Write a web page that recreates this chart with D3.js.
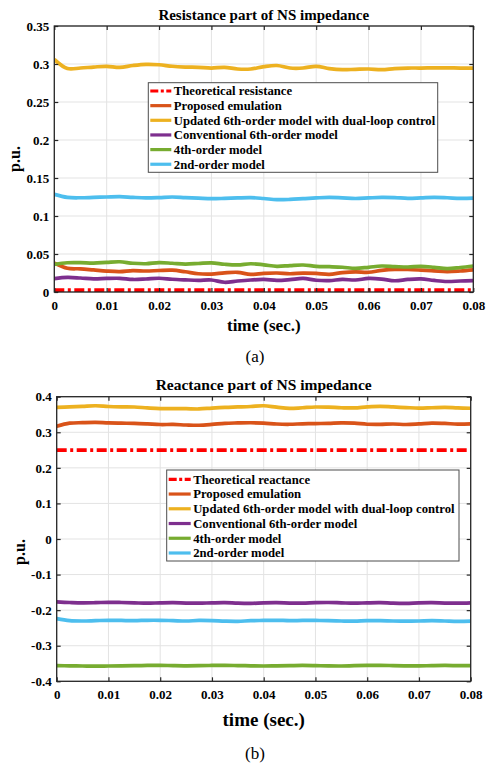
<!DOCTYPE html>
<html>
<head>
<meta charset="utf-8">
<script src="https://cdn.jsdelivr.net/npm/d3@7/dist/d3.min.js"></script>
<style>
    body { margin: 0; background: #fff; }
    svg text { font-family: 'Liberation Serif', 'Times New Roman', serif; font-weight: bold; fill: #000; }
</style>
</head>
<body>
<svg id="chart" width="490" height="767"></svg>
<script>
// sample instants (sec.)
const time = [0, 0.0025, 0.005, 0.0075, 0.01, 0.0125, 0.015, 0.0175, 0.02, 0.0225, 0.025, 0.0275,
    0.03, 0.0325, 0.035, 0.0375, 0.04, 0.0425, 0.045, 0.0475, 0.05, 0.0525, 0.055, 0.0575,
    0.06, 0.0625, 0.065, 0.0675, 0.07, 0.0725, 0.075, 0.0775, 0.08];

const xTicks = [0, 0.01, 0.02, 0.03, 0.04, 0.05, 0.06, 0.07, 0.08];
const yTicksR = [0, 0.05, 0.1, 0.15, 0.2, 0.25, 0.3, 0.35];
const yTicksX = [-0.4, -0.3, -0.2, -0.1, 0, 0.1, 0.2, 0.3, 0.4];

const legendR = ['Theoretical resistance', 'Proposed emulation', 'Updated 6th-order model with dual-loop control',
    'Conventional 6th-order model', '4th-order model', '2nd-order model'];
const legendX = ['Theoretical reactance', 'Proposed emulation', 'Updated 6th-order model with dual-loop control',
    'Conventional 6th-order model', '4th-order model', '2nd-order model'];
const seriesColors = ['#ff0000', '#d95319', '#edb120', '#7e2f8e', '#77ac30', '#4dbeee'];

// (a) resistance part, p.u.
const theoryR = 0.0025;
const proposedR = [0.038, 0.0312, 0.0305, 0.029, 0.0275, 0.0268, 0.0282, 0.0276, 0.0283, 0.0287, 0.0266,
    0.024, 0.0236, 0.0252, 0.0259, 0.0232, 0.0245, 0.025, 0.024, 0.0248, 0.0244, 0.0232, 0.0255,
    0.0266, 0.026, 0.0285, 0.0298, 0.0296, 0.0288, 0.0278, 0.0268, 0.0276, 0.029];
const updatedR = [0.306, 0.294, 0.2947, 0.296, 0.297, 0.2956, 0.298, 0.2995, 0.299, 0.297, 0.296,
    0.2956, 0.2947, 0.2956, 0.2934, 0.2934, 0.2965, 0.298, 0.2947, 0.2947, 0.297, 0.294, 0.2925,
    0.293, 0.2934, 0.2925, 0.294, 0.2947, 0.2947, 0.295, 0.295, 0.2947, 0.2947];
const conventionalR = [0.0176, 0.0192, 0.0184, 0.0172, 0.0178, 0.018, 0.0165, 0.0171, 0.0181, 0.0168, 0.016,
    0.0154, 0.0158, 0.0128, 0.0145, 0.0158, 0.0165, 0.0154, 0.0163, 0.0178, 0.0155, 0.015, 0.0165,
    0.0158, 0.0178, 0.017, 0.0148, 0.0165, 0.0172, 0.0152, 0.0138, 0.0145, 0.015];
const fourthR = [0.0364, 0.0385, 0.0386, 0.0381, 0.039, 0.0398, 0.0378, 0.0372, 0.0386, 0.0378, 0.0368,
    0.0375, 0.0384, 0.0365, 0.0356, 0.0372, 0.0358, 0.0338, 0.0348, 0.0355, 0.0338, 0.0333, 0.0326,
    0.0311, 0.0325, 0.0342, 0.0335, 0.0329, 0.0338, 0.0325, 0.0307, 0.0322, 0.0342];
const secondR = [0.1285, 0.1245, 0.124, 0.1245, 0.125, 0.1255, 0.1245, 0.1238, 0.1242, 0.125, 0.1242,
    0.1235, 0.1228, 0.1232, 0.1238, 0.1242, 0.123, 0.1215, 0.1218, 0.1228, 0.1238, 0.1245, 0.1238,
    0.123, 0.1238, 0.1245, 0.1242, 0.1232, 0.1238, 0.1245, 0.124, 0.1232, 0.1235];

// (b) reactance part, p.u.
const theoryX = 0.25;
const proposedX = [0.317, 0.3255, 0.327, 0.3278, 0.3262, 0.3255, 0.325, 0.3236, 0.3218, 0.322, 0.3205,
    0.3198, 0.322, 0.3252, 0.3262, 0.3268, 0.3258, 0.3232, 0.3225, 0.3238, 0.3245, 0.325, 0.3262,
    0.3255, 0.3226, 0.3222, 0.3232, 0.3218, 0.3235, 0.3258, 0.3248, 0.323, 0.3238];
const updatedX = [0.37, 0.3715, 0.373, 0.3745, 0.3725, 0.3715, 0.371, 0.3685, 0.3665, 0.3665, 0.3662,
    0.3655, 0.368, 0.37, 0.3712, 0.3725, 0.3745, 0.3705, 0.367, 0.369, 0.371, 0.3705, 0.369,
    0.3685, 0.3715, 0.373, 0.3712, 0.3695, 0.368, 0.369, 0.37, 0.3685, 0.3675];
const conventionalX = [-0.177, -0.1785, -0.1795, -0.179, -0.178, -0.1785, -0.1795, -0.1805, -0.1795, -0.179, -0.18,
    -0.1805, -0.1795, -0.179, -0.1805, -0.181, -0.1795, -0.179, -0.18, -0.1805, -0.179, -0.1785, -0.1795,
    -0.1805, -0.1795, -0.179, -0.1805, -0.181, -0.1795, -0.179, -0.18, -0.1805, -0.1795];
const fourthX = [-0.356, -0.3565, -0.357, -0.3575, -0.357, -0.3565, -0.356, -0.3555, -0.3552, -0.356, -0.3565,
    -0.3562, -0.3555, -0.3552, -0.3558, -0.3565, -0.357, -0.3565, -0.356, -0.3555, -0.356, -0.3568, -0.357,
    -0.3562, -0.3555, -0.3552, -0.3558, -0.3565, -0.3568, -0.356, -0.3555, -0.3558, -0.356];
const secondX = [-0.224, -0.2295, -0.2305, -0.2295, -0.2285, -0.229, -0.2295, -0.2285, -0.2285, -0.2295, -0.2305,
    -0.229, -0.2295, -0.231, -0.2315, -0.2295, -0.229, -0.2285, -0.2295, -0.229, -0.229, -0.2295, -0.2305,
    -0.231, -0.2295, -0.2295, -0.2305, -0.231, -0.2305, -0.2295, -0.2305, -0.2315, -0.231];

function ImpedancePanel(svg, props) {
    this.svg = svg;
    this.props = props;
    this.x = d3.scaleLinear().domain([0, 0.08]).range([props.left, props.right]);
    this.y = d3.scaleLinear().domain(props.yDomain).range([props.bottom, props.top]);
    this.line = d3.line()
        .curve(d3.curveCatmullRom)
        .x((d, i) => this.x(time[i]))
        .y(d => this.y(d));
}

ImpedancePanel.prototype.draw = function () {
    let _this = this;
    let p = _this.props;
    let g = _this.svg.append('g').attr('class', p.id);

    // grid
    g.append('g').selectAll('line.vx').data(xTicks).join('line')
        .attr('x1', d => _this.x(d)).attr('x2', d => _this.x(d))
        .attr('y1', p.top).attr('y2', p.bottom)
        .attr('stroke', '#e3e3e3').attr('stroke-width', 1);
    g.append('g').selectAll('line.hy').data(p.yTicks).join('line')
        .attr('x1', p.left).attr('x2', p.right)
        .attr('y1', d => _this.y(d)).attr('y2', d => _this.y(d))
        .attr('stroke', '#e3e3e3').attr('stroke-width', 1);

    // series
    g.append('clipPath').attr('id', 'clip-' + p.id)
        .append('rect')
        .attr('x', p.left).attr('y', p.top)
        .attr('width', p.right - p.left).attr('height', p.bottom - p.top);
    let plot = g.append('g').attr('clip-path', 'url(#clip-' + p.id + ')');
    plot.append('line')
        .attr('x1', _this.x(time[0])).attr('x2', _this.x(time[time.length - 1]))
        .attr('y1', _this.y(p.theory)).attr('y2', _this.y(p.theory))
        .attr('stroke', seriesColors[0]).attr('stroke-width', 3.7)
        .attr('stroke-dasharray', '10,3.5,3,3.5');
    p.series.forEach(function (s, i) {
        plot.append('path')
            .datum(s)
            .attr('d', _this.line)
            .attr('fill', 'none')
            .attr('stroke', seriesColors[i + 1])
            .attr('stroke-width', 3.7)
            .attr('stroke-linejoin', 'round');
    });

    // axes, ticks pointing inward on all four sides
    let fmt = d => String(d);
    let axes = [
        { axis: d3.axisLeft(_this.y).tickValues(p.yTicks).tickFormat(fmt).tickPadding(5), tr: [p.left, 0] },
        { axis: d3.axisRight(_this.y).tickValues(p.yTicks).tickFormat(''), tr: [p.right, 0] },
        { axis: d3.axisBottom(_this.x).tickValues(xTicks).tickFormat(fmt).tickPadding(8.5), tr: [0, p.bottom] },
        { axis: d3.axisTop(_this.x).tickValues(xTicks).tickFormat(''), tr: [0, p.top] }
    ];
    axes.forEach(function (a) {
        let ag = g.append('g')
            .attr('transform', 'translate(' + a.tr[0] + ',' + a.tr[1] + ')')
            .call(a.axis.tickSizeInner(-4).tickSizeOuter(0));
        ag.select('.domain').remove();
        ag.selectAll('line').attr('stroke', '#262626').attr('stroke-width', 1.2);
        ag.selectAll('text').attr('font-size', 13).attr('fill', '#1a1a1a')
            .style('font-family', "'Liberation Serif', 'Times New Roman', serif");
    });
    g.append('rect')
        .attr('x', p.left).attr('y', p.top)
        .attr('width', p.right - p.left).attr('height', p.bottom - p.top)
        .attr('fill', 'none').attr('stroke', '#262626').attr('stroke-width', 1.3);

    // labels
    g.append('text')
        .attr('x', (p.left + p.right) / 2).attr('y', p.titleY)
        .attr('text-anchor', 'middle').attr('font-size', p.titleSize)
        .text(p.title);
    g.append('text')
        .attr('x', (p.left + p.right) / 2).attr('y', p.xLabelY)
        .attr('text-anchor', 'middle').attr('font-size', p.xLabelSize)
        .text('time (sec.)');
    g.append('text')
        .attr('transform', 'translate(' + p.yLabelX + ',' + p.yLabelY + ') rotate(-90)')
        .attr('text-anchor', 'middle').attr('font-size', 16)
        .text('p.u.');
    g.append('text')
        .attr('x', 255).attr('y', p.captionY)
        .attr('text-anchor', 'middle').attr('font-size', 17)
        .style('font-weight', 'normal')
        .text(p.caption);

    _this.drawLegend(g);
};

ImpedancePanel.prototype.drawLegend = function (g) {
    let p = this.props;
    let lg = p.legend;
    let box = g.append('g').attr('class', 'legend');
    box.append('rect')
        .attr('x', lg.x).attr('y', lg.y)
        .attr('width', lg.w).attr('height', lg.h)
        .attr('fill', '#fff').attr('stroke', '#4d4d4d').attr('stroke-width', 1);
    let rows = box.selectAll('g.row').data(p.names).join('g')
        .attr('class', 'row')
        .attr('transform', (d, i) => 'translate(0,' + (lg.row0 + i * lg.step) + ')');
    rows.append('line')
        .attr('x1', lg.x + 2).attr('x2', lg.x + 2 + lg.sample)
        .attr('stroke', (d, i) => seriesColors[i])
        .attr('stroke-width', 3.2)
        .attr('stroke-dasharray', (d, i) => i === 0 ? '8,2.5,3,2.5' : null);
    rows.append('text')
        .attr('x', lg.x + 2 + lg.sample + 2.5)
        .attr('dy', '0.35em')
        .attr('font-size', 12.7)
        .text(d => d);
};

let svg = d3.select('#chart');
svg.append('rect').attr('width', 490).attr('height', 767).attr('fill', '#fff');

new ImpedancePanel(svg, {
    id: 'resistance',
    left: 54.3, right: 473.3, top: 26, bottom: 292,
    yDomain: [0, 0.35], yTicks: yTicksR,
    theory: theoryR,
    series: [proposedR, updatedR, conventionalR, fourthR, secondR],
    names: legendR,
    title: 'Resistance part of NS impedance', titleY: 20, titleSize: 15,
    xLabelY: 331, xLabelSize: 17,
    yLabelX: 20, yLabelY: 159,
    caption: '(a)', captionY: 362,
    legend: { x: 148.3, y: 82.7, w: 289.4, h: 89.6, row0: 91, step: 14.65, sample: 21 }
}).draw();

new ImpedancePanel(svg, {
    id: 'reactance',
    left: 56.7, right: 470.7, top: 396.7, bottom: 681.3,
    yDomain: [-0.4, 0.4], yTicks: yTicksX,
    theory: theoryX,
    series: [proposedX, updatedX, conventionalX, fourthX, secondX],
    names: legendX,
    title: 'Reactance part of NS impedance', titleY: 390, titleSize: 15.5,
    xLabelY: 726, xLabelSize: 19,
    yLabelX: 25, yLabelY: 552,
    caption: '(b)', captionY: 759,
    legend: { x: 166.7, y: 470, w: 292.3, h: 91, row0: 479.3, step: 14.74, sample: 22 }
}).draw();
</script>
</body>
</html>
